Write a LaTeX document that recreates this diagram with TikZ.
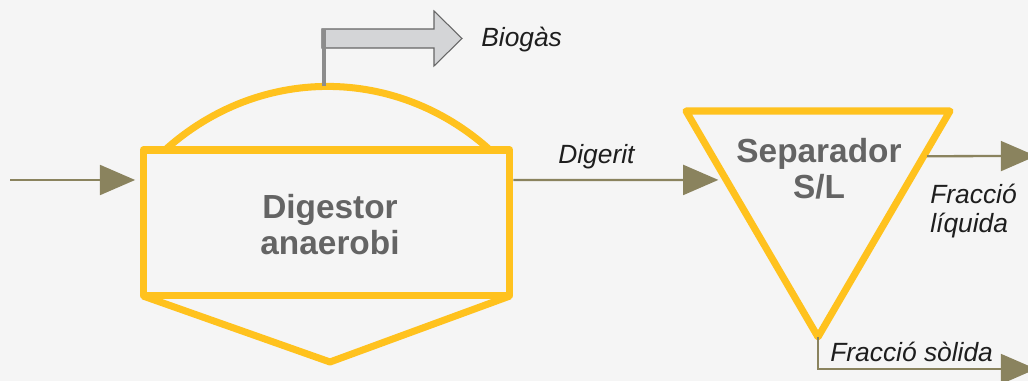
\documentclass[tikz,border=0pt]{standalone}
\usepackage{fontspec}
\setmainfont{Liberation Sans}
\usetikzlibrary{arrows.meta,positioning,calc}
\definecolor{bg}{RGB}{245,245,245}
\definecolor{amber}{RGB}{255,194,30}
\definecolor{olive}{RGB}{138,131,94}
\definecolor{textgray}{RGB}{100,100,100}
\definecolor{labelink}{RGB}{30,30,30}
\definecolor{pipegray}{RGB}{140,140,140}
\definecolor{arrowfill}{RGB}{212,213,215}

\begin{document}
\begin{tikzpicture}[x=0.02cm,y=-0.02cm,
  unit/.style={draw=amber,line width=4pt,line join=round},
  flow/.style={draw=olive,line width=1.3pt,-{Triangle[length=20pt,width=17pt]}},
  title/.style={font=\fontsize{19}{20.5}\selectfont\bfseries,text=textgray,align=center},
  lbl/.style={font=\fontsize{15}{17}\selectfont\itshape,text=labelink,anchor=west,inner sep=0pt}]
  \useasboundingbox[fill=bg] (0,0) rectangle (1028,381);

  % digestor
  \node[unit,rectangle,minimum width=7.34cm,minimum height=2.92cm,outer sep=0pt] (dig) at (326.5,223) {};
  \node[title] (digtxt) at (330,225) {Digestor\\anaerobi};
  \draw[unit] ($(dig.north west)+(22,0)$) to[bend left=42] coordinate[pos=0.5] (dome) ($(dig.north east)+(-20,0)$);
  \coordinate (cone) at (330,362);
  \draw[unit] (dig.south west) -- (cone) -- (dig.south east);

  % biogas outlet
  \coordinate (gastop) at (324,29);
  \filldraw[fill=arrowfill,draw=black!60,line width=0.6pt]
    (322,29) -- (434,29) -- (434,11) -- (462,38.5) -- (434,66) -- (434,48) -- (322,48) -- cycle;
  \draw[pipegray,line width=2.3pt] (gastop |- dome) -- (gastop);
  \node[lbl] (gas) at (481,40) {Biogàs};

  % feed
  \coordinate (in) at (10,180);
  \draw[flow,shorten >=4.5pt] (in) -- (in -| dig.west);

  % separator
  \coordinate (sl) at (686,111);
  \coordinate (sr) at (950,111);
  \coordinate (sb) at (818,337);
  \draw[unit] (sl) -- (sr) -- (sb) -- cycle;
  \node[title] (sep) at (819,169) {Separador\\S/L};

  \draw[flow,shorten <=2pt,shorten >=4.5pt] (in -| dig.east) -- ($(sl)!0.305!(sb)$);
  \node[lbl] (dgl) at (558,157) {Digerit};

  \coordinate (liqout) at (1036,156);
  \draw[flow,shorten <=2pt] ($(sr)!0.2!(sb)$) -- (liqout);
  \node[lbl,align=left] (liq) at (930,211) {Fracció\\líquida};

  \coordinate (solout) at (1036,369);
  \draw[flow] (sb) |- (solout);
  \node[lbl] (sol) at (830,352) {Fracció sòlida};
\end{tikzpicture}
\end{document}
